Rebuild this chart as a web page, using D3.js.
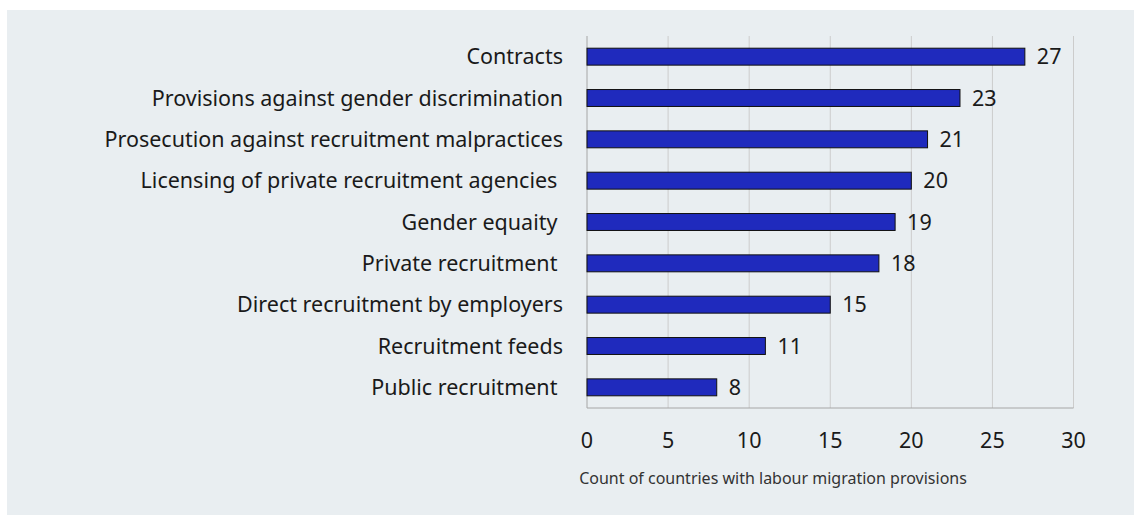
<!DOCTYPE html>
<html>
<head>
<meta charset="utf-8">
<script src="https://cdn.jsdelivr.net/npm/d3@7"></script>
<style>
  html, body { margin: 0; padding: 0; background: #ffffff; }
  svg text { font-family: "Noto Sans", "Open Sans", sans-serif; white-space: pre; }
</style>
</head>
<body>
<svg id="chart" width="1135" height="515"></svg>
<script>
// Provisions covered in national labour migration frameworks
const categories = [
  "Contracts",
  "Provisions against gender discrimination",
  "Prosecution against recruitment malpractices",
  "Licensing of private recruitment agencies ",
  "Gender equaity ",
  "Private recruitment ",
  "Direct recruitment by employers",
  "Recruitment feeds",
  "Public recruitment "
];
const counts = [27, 23, 21, 20, 19, 18, 15, 11, 8];
const xTicks = [0, 5, 10, 15, 20, 25, 30];
const axisTitle = "Count of countries with labour migration provisions";

const svg = d3.select("#chart");

// panel background
svg.append("rect")
  .attr("x", 7).attr("y", 10)
  .attr("width", 1127).attr("height", 505)
  .attr("fill", "#e9eef1");

const plot = { left: 587, right: 1073.5, top: 36, bottom: 408 };

const x = d3.scaleLinear().domain([0, 30]).range([plot.left, plot.right]);
const y = d3.scaleBand().domain(categories).range([plot.top, plot.bottom]).paddingInner(0.59).paddingOuter(0.295);

// vertical gridlines
svg.append("g")
  .selectAll("line")
  .data(xTicks)
  .join("line")
  .attr("x1", d => x(d)).attr("x2", d => x(d))
  .attr("y1", plot.top).attr("y2", plot.bottom)
  .attr("stroke", d => d === 0 ? "#a6a6a6" : "#cccccc")
  .attr("stroke-width", 1);

// baseline
svg.append("line")
  .attr("x1", plot.left).attr("x2", plot.right)
  .attr("y1", plot.bottom).attr("y2", plot.bottom)
  .attr("stroke", "#a6a6a6").attr("stroke-width", 1);

// bars
svg.append("g")
  .selectAll("rect")
  .data(categories)
  .join("rect")
  .attr("x", x(0))
  .attr("y", d => y(d))
  .attr("width", (d, i) => x(counts[i]) - x(0))
  .attr("height", y.bandwidth())
  .attr("fill", "#1f2abd")
  .attr("stroke", "#111111")
  .attr("stroke-width", 1);

// value labels
svg.append("g")
  .selectAll("text")
  .data(categories)
  .join("text")
  .attr("x", (d, i) => x(counts[i]) + 12)
  .attr("y", d => y(d) + y.bandwidth() / 2)
  .attr("dy", "0.35em")
  .attr("font-size", 21.5)
  .attr("fill", "#1a1a1a")
  .text((d, i) => counts[i]);

// category labels
svg.append("g")
  .selectAll("text")
  .data(categories)
  .join("text")
  .attr("x", plot.left - 24)
  .attr("y", d => y(d) + y.bandwidth() / 2)
  .attr("dy", "0.35em")
  .attr("text-anchor", "end")
  .attr("font-size", 21.5)
  .attr("fill", "#1a1a1a")
  .text(d => d);

// x tick labels
svg.append("g")
  .selectAll("text")
  .data(xTicks)
  .join("text")
  .attr("x", d => x(d))
  .attr("y", 440)
  .attr("dy", "0.35em")
  .attr("text-anchor", "middle")
  .attr("font-size", 21.5)
  .attr("fill", "#1a1a1a")
  .text(d => d);

// axis title
svg.append("text")
  .attr("x", 773)
  .attr("y", 478)
  .attr("dy", "0.35em")
  .attr("text-anchor", "middle")
  .attr("font-size", 16)
  .attr("fill", "#333333")
  .text(axisTitle);
</script>
</body>
</html>
